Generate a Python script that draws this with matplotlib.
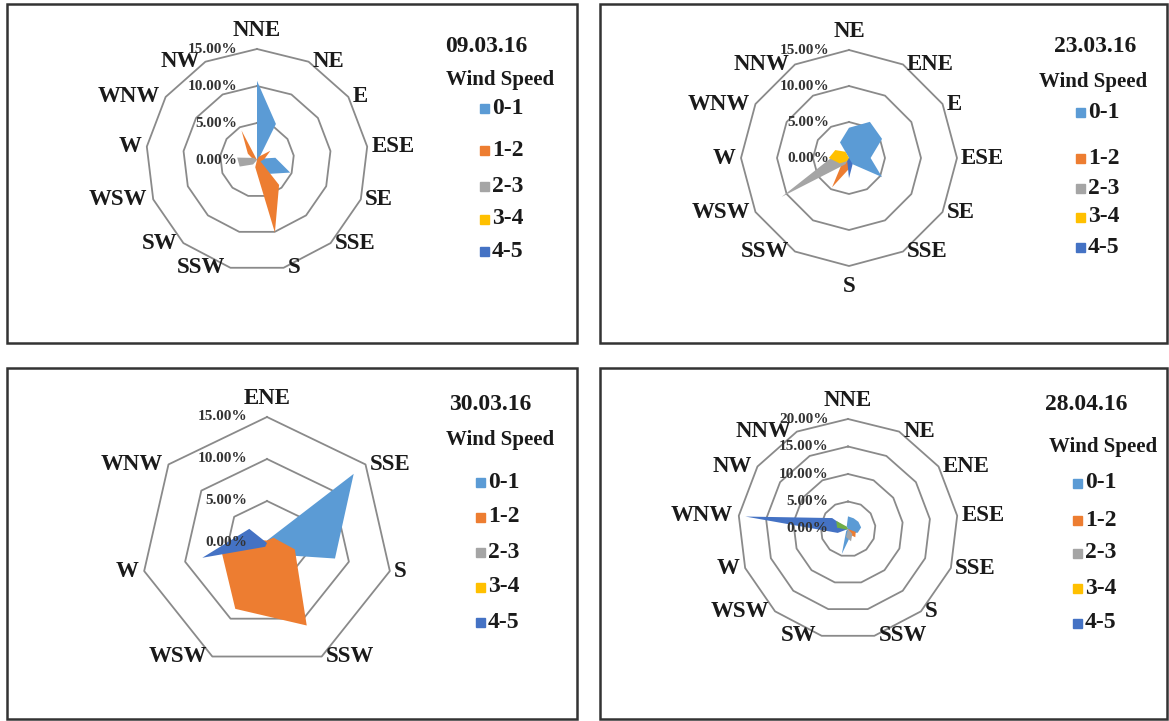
import numpy as np
import matplotlib
matplotlib.use('Agg')
import matplotlib.pyplot as plt
from matplotlib.patches import Rectangle

W, H = 1169, 721

speed_bins = ['0-1', '1-2', '2-3', '3-4', '4-5']
bin_colors = ['#5B9BD5', '#ED7D31', '#A5A5A5', '#FFC000', '#4472C4', '#70AD47']

# 09.03.16  (% of time per direction)
p1_dirs = ['NNE', 'NE', 'E', 'ESE', 'SE', 'SSE', 'S', 'SSW', 'SW', 'WSW', 'W', 'WNW', 'NW']
p1_s01 = [10.7, 5.5, 0.3, 2.5, 4.8, 2.5, 0.3, 0, 0, 0, 0, 0, 0]
p1_s12 = [0, 0.5, 2.2, 1.0, 0.5, 4.5, 10.1, 1.0, 0, 0, 0.5, 1.5, 4.5]
p1_s23 = [0, 0, 0, 0, 0, 0, 0, 0, 0.8, 2.5, 2.7, 0.5, 0]
p1_s34 = [0, 0, 0, 0, 0, 0, 0, 0, 0, 0, 0, 0, 0]
p1_s45 = [0, 0, 0, 0, 0, 0, 0, 0, 0, 0, 0.3, 0, 0]

# 23.03.16
p2_dirs = ['NE', 'ENE', 'E', 'ESE', 'SE', 'SSE', 'S', 'SSW', 'WSW', 'W', 'WNW', 'NNW']
p2_s01 = [4.2, 5.8, 5.3, 3.0, 5.3, 1.0, 0.5, 0, 0, 0, 0, 2.5]
p2_s12 = [0, 0, 0, 0, 0, 0, 1.5, 4.7, 1.0, 0, 0, 0]
p2_s23 = [0, 0, 0, 0, 0, 0, 0, 1.0, 10.8, 2.5, 0, 0]
p2_s34 = [0, 0, 0, 0, 0, 0, 0, 0.5, 1.5, 2.8, 2.2, 1.0]
p2_s45 = [0, 0, 0, 0, 0, 1.0, 2.8, 0.5, 0, 0, 0, 0]

# 30.03.16
p3_dirs = ['ENE', 'SSE', 'S', 'SSW', 'WSW', 'W', 'WNW']
p3_s01 = [0.3, 13.2, 8.3, 1.5, 0, 0, 0]
p3_s12 = [0.3, 1.0, 3.4, 10.9, 8.7, 5.5, 0.5]
p3_s23 = [0, 0, 0, 0, 0, 0, 0]
p3_s34 = [0, 0, 0, 0, 0, 0, 0]
p3_s45 = [0, 0, 0, 0, 0.5, 7.9, 2.7]

# 28.04.16
p4_dirs = ['NNE', 'NE', 'ENE', 'ESE', 'SSE', 'S', 'SSW', 'SW', 'WSW', 'W', 'WNW', 'NW', 'NNW']
p4_s01 = [2.3, 2.2, 2.3, 2.4, 1.9, 1.0, 1.5, 4.7, 0.5, 0, 0, 0, 0.5]
p4_s12 = [0, 0, 0, 0, 1.5, 2.0, 1.0, 0, 0, 0, 0, 0, 0]
p4_s23 = [0, 0, 0, 0, 0, 1.2, 2.3, 1.5, 0, 0, 0, 0, 0]
p4_s34 = [0, 0, 0, 0, 0, 0, 0, 0, 0, 0, 0, 0, 0]
p4_s45 = [0, 0, 0, 0, 0, 0, 0, 0, 0, 2.0, 18.8, 3.5, 0]
p4_s56 = [0, 0, 0, 0, 0, 0, 0, 0, 0, 0.3, 2.0, 2.6, 0.5]

serif = 'Liberation Serif'

fig = plt.figure(figsize=(W / 100, H / 100), dpi=100)


def radar(cx, cy, R, dirs, series, rmax, step):
    ax = fig.add_axes([(cx - R) / W, 1 - (cy + R) / H, 2 * R / W, 2 * R / H],
                      projection='polar')
    ax.set_theta_zero_location('N')
    ax.set_theta_direction(-1)
    ax.set_ylim(0, rmax)
    ax.axis('off')
    n = len(dirs)
    theta = np.arange(n + 1) * 2 * np.pi / n

    # polygon gridlines
    for lev in np.arange(step, rmax + 0.01, step):
        ax.plot(theta, [lev] * (n + 1), color='#8a8a8a', lw=1.3,
                clip_on=False, zorder=1)

    for vals, col in zip(series, bin_colors):
        v = list(vals) + [vals[0]]
        ax.fill(theta, v, color=col, lw=0, zorder=2, clip_on=False)

    # direction labels
    for i, d in enumerate(dirs):
        t = theta[i]
        s, c = np.sin(t), np.cos(t)
        if abs(s) < 0.05:
            ha, va = 'center', ('bottom' if c > 0 else 'top')
            off = (0, 6 if c > 0 else -7)
        else:
            ha, va = ('left' if s > 0 else 'right'), 'center'
            off = (3 if s > 0 else -4, 0)
        ax.annotate(d, xy=(t, rmax), xytext=off, textcoords='offset points',
                    ha=ha, va=va, fontsize=16.5, fontweight='bold',
                    family=serif, color='#1a1a1a', annotation_clip=False, zorder=5)

    # radial axis labels
    for lev in np.arange(0, rmax + 0.01, step):
        ax.annotate(f'{lev:.2f}%', xy=(0, lev), xytext=(-14, 0),
                    textcoords='offset points', ha='right', va='center',
                    fontsize=11, fontweight='bold', family=serif,
                    color='#333333', annotation_clip=False, zorder=5)
    return ax


def legend(date, date_xy, ws_xy, mark_x, ys):
    fig.text(date_xy[0] / W, 1 - date_xy[1] / H, date, ha='center', va='center',
             fontsize=17, fontweight='bold', family=serif, color='#1a1a1a')
    fig.text(ws_xy[0] / W, 1 - ws_xy[1] / H, 'Wind Speed', ha='center', va='center',
             fontsize=15, fontweight='bold', family=serif, color='#1a1a1a')
    for lab, col, y in zip(speed_bins, bin_colors, ys):
        fig.patches.append(Rectangle(((mark_x - 4.5) / W, 1 - (y + 4.5) / H), 9 / W, 9 / H,
                                     transform=fig.transFigure, color=col))
        fig.text((mark_x + 8) / W, 1 - y / H, lab, ha='left', va='center',
                 fontsize=17, fontweight='bold', family=serif, color='#1a1a1a')


# panel frames
for x0, y0, x1, y1 in [(7, 4, 577, 343), (600, 4, 1167, 343),
                       (7, 368, 577, 719), (600, 368, 1167, 719)]:
    fig.patches.append(Rectangle((x0 / W, 1 - y1 / H), (x1 - x0) / W, (y1 - y0) / H,
                                 transform=fig.transFigure, fill=False,
                                 edgecolor='#333333', lw=1.8))

radar(257, 160, 111, p1_dirs, [p1_s01, p1_s12, p1_s23, p1_s34, p1_s45], 15, 5)
legend('09.03.16', (486, 47), (500, 80), 484, [108, 150, 186, 219, 251])

radar(849, 158, 108, p2_dirs, [p2_s01, p2_s12, p2_s23, p2_s34, p2_s45], 15, 5)
legend('23.03.16', (1095, 47), (1093, 82), 1080, [112, 158, 188, 217, 247])

radar(267, 543, 126, p3_dirs, [p3_s01, p3_s12, p3_s23, p3_s34, p3_s45], 15, 5)
legend('30.03.16', (490, 405), (500, 440), 480, [482, 517, 552, 587, 622])

radar(848, 529, 110, p4_dirs, [p4_s01, p4_s12, p4_s23, p4_s34, p4_s45, p4_s56], 20, 5)
legend('28.04.16', (1086, 405), (1103, 447), 1077, [483, 520, 553, 588, 623])

fig.savefig('out.png', dpi=100)
